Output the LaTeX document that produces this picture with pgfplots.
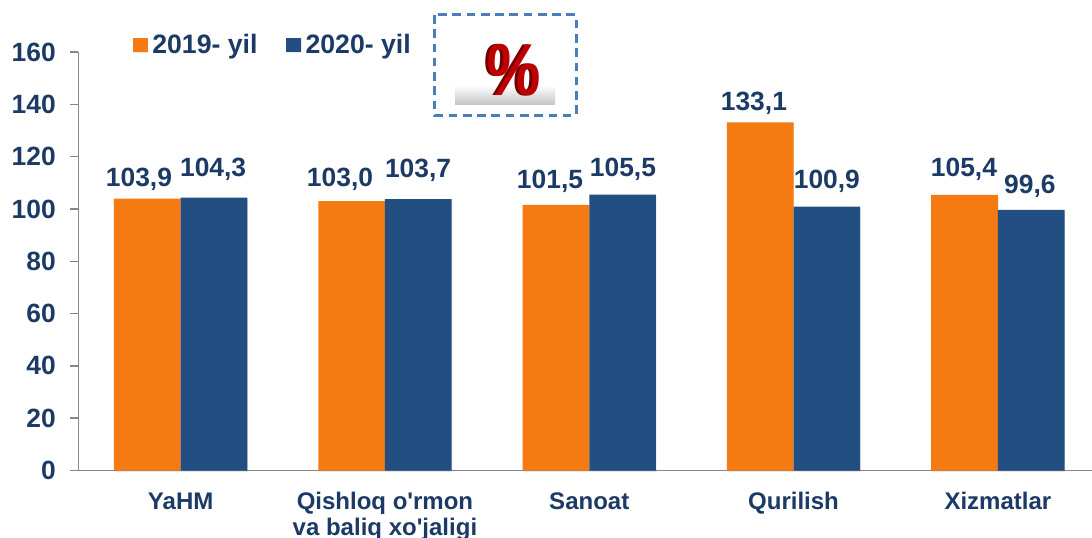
\documentclass[border=0pt]{standalone}
\usepackage{pgfplots}
\usepackage{pgfplotstable}
\usepackage{fontspec}
\setmainfont{Liberation Sans}
\pgfplotsset{compat=1.18}
\usetikzlibrary{shadows}
\definecolor{navy}{HTML}{1B3A66}
\definecolor{orng}{HTML}{F57A12}
\definecolor{blu}{HTML}{234E82}
\definecolor{axgray}{HTML}{868686}
\definecolor{boxblue}{HTML}{4A7EBB}
\pgfplotstableread{
x y
0 103.9
1 103.0
2 101.5
3 133.1
4 105.4
}\first
\pgfplotstableread{
x y
0 104.3
1 103.7
2 105.5
3 100.9
4 99.6
}\second
\pgfplotstableread{
lx ly lab
-0.204 111.5 103,9
0.159 115.3 104,3
0.780 111.5 103,0
1.162 114.6 103,7
1.808 110.7 101,5
2.165 115.0 105,5
2.806 140.2 133,1
3.163 110.7 100,9
3.834 115.0 105,4
4.157 108.8 99,6
}\labels
\begin{document}
\begin{tikzpicture}[x=0.75pt,y=0.75pt]
\useasboundingbox (0,0) rectangle (1092,537);
% picture box
\shade[top color=white,bottom color=black!22] (455,452) rectangle (555,433);
\draw[color=boxblue,line width=2.25pt,dash pattern=on 6.5pt off 4.2pt] (434.5,522) rectangle (576,422);
\node[text=red!45!black,font=\bfseries\fontsize{46}{46}\selectfont,xslant=0.05,yscale=1.2] at (511,467) {\%};
\node[text=red!75!black,font=\bfseries\fontsize{46}{46}\selectfont,xslant=0.05,yscale=1.2] at (514,467) {\%};
\begin{axis}[
  at={(58.875pt,49.875pt)},anchor=south west,
  scale only axis,width=760.1pt,height=313.9pt,
  xmin=-0.5,xmax=4.4607,ymin=0,ymax=160,
  axis x line=bottom,axis y line=left,
  axis line style={axgray,line width=1.1pt,-},
  clip=false,
  xtick={0,1,2,3,4},
  xticklabels={YaHM,{Qishloq o\textquotesingle rmon\\va baliq xo\textquotesingle jaligi},Sanoat,Qurilish,Xizmatlar},
  x tick style={draw=none},
  minor xtick={0.5,1.5,2.5,3.5},
  minor x tick style={axgray,line width=1.1pt},
  minor tick length=5.5pt,
  xtick align=inside,
  ytick={0,20,...,160},
  ytick align=outside,
  y tick style={axgray,line width=1.1pt},
  major tick length=6pt,
  /pgf/number format/assume math mode=true,
  yticklabel style={text=navy,font=\bfseries\fontsize{19.8}{19.8}\selectfont,xshift=-7.5pt},
  xticklabel style={text=navy,font=\bfseries\fontsize{18}{19.5}\selectfont,align=center,anchor=north,yshift=-13pt},
  legend cell align=left,
  legend columns=2,
  legend style={at={(0.0535,1.017)},anchor=west,draw=none,fill=none,inner sep=0pt,
    font=\bfseries\fontsize{20}{20}\selectfont,text=navy,
    /tikz/every even column/.append style={column sep=19.5pt},
    /tikz/every odd column/.append style={column sep=1.5pt}},
  legend image code/.code={\fill[#1] (0pt,-5.3pt) rectangle (11pt,5.3pt);},
]
\addplot[ybar,bar width=50pt,bar shift=-25pt,fill=orng,draw=none,drop shadow={shadow xshift=0.5pt,shadow yshift=-1pt,opacity=0.18}] table[x=x,y=y] {\first};
\addplot[ybar,bar width=50pt,bar shift=25pt,fill=blu,draw=none,drop shadow={shadow xshift=0.5pt,shadow yshift=-1pt,opacity=0.18}] table[x=x,y=y] {\second};
\addplot[forget plot,only marks,mark=none,point meta=explicit symbolic,nodes near coords,
  nodes near coords style={anchor=center,text=navy,font=\bfseries\fontsize{19.8}{19.8}\selectfont}]
  table[x=lx,y=ly,meta=lab] {\labels};
\legend{2019- yil,2020- yil}
\end{axis}
\end{tikzpicture}
\end{document}
